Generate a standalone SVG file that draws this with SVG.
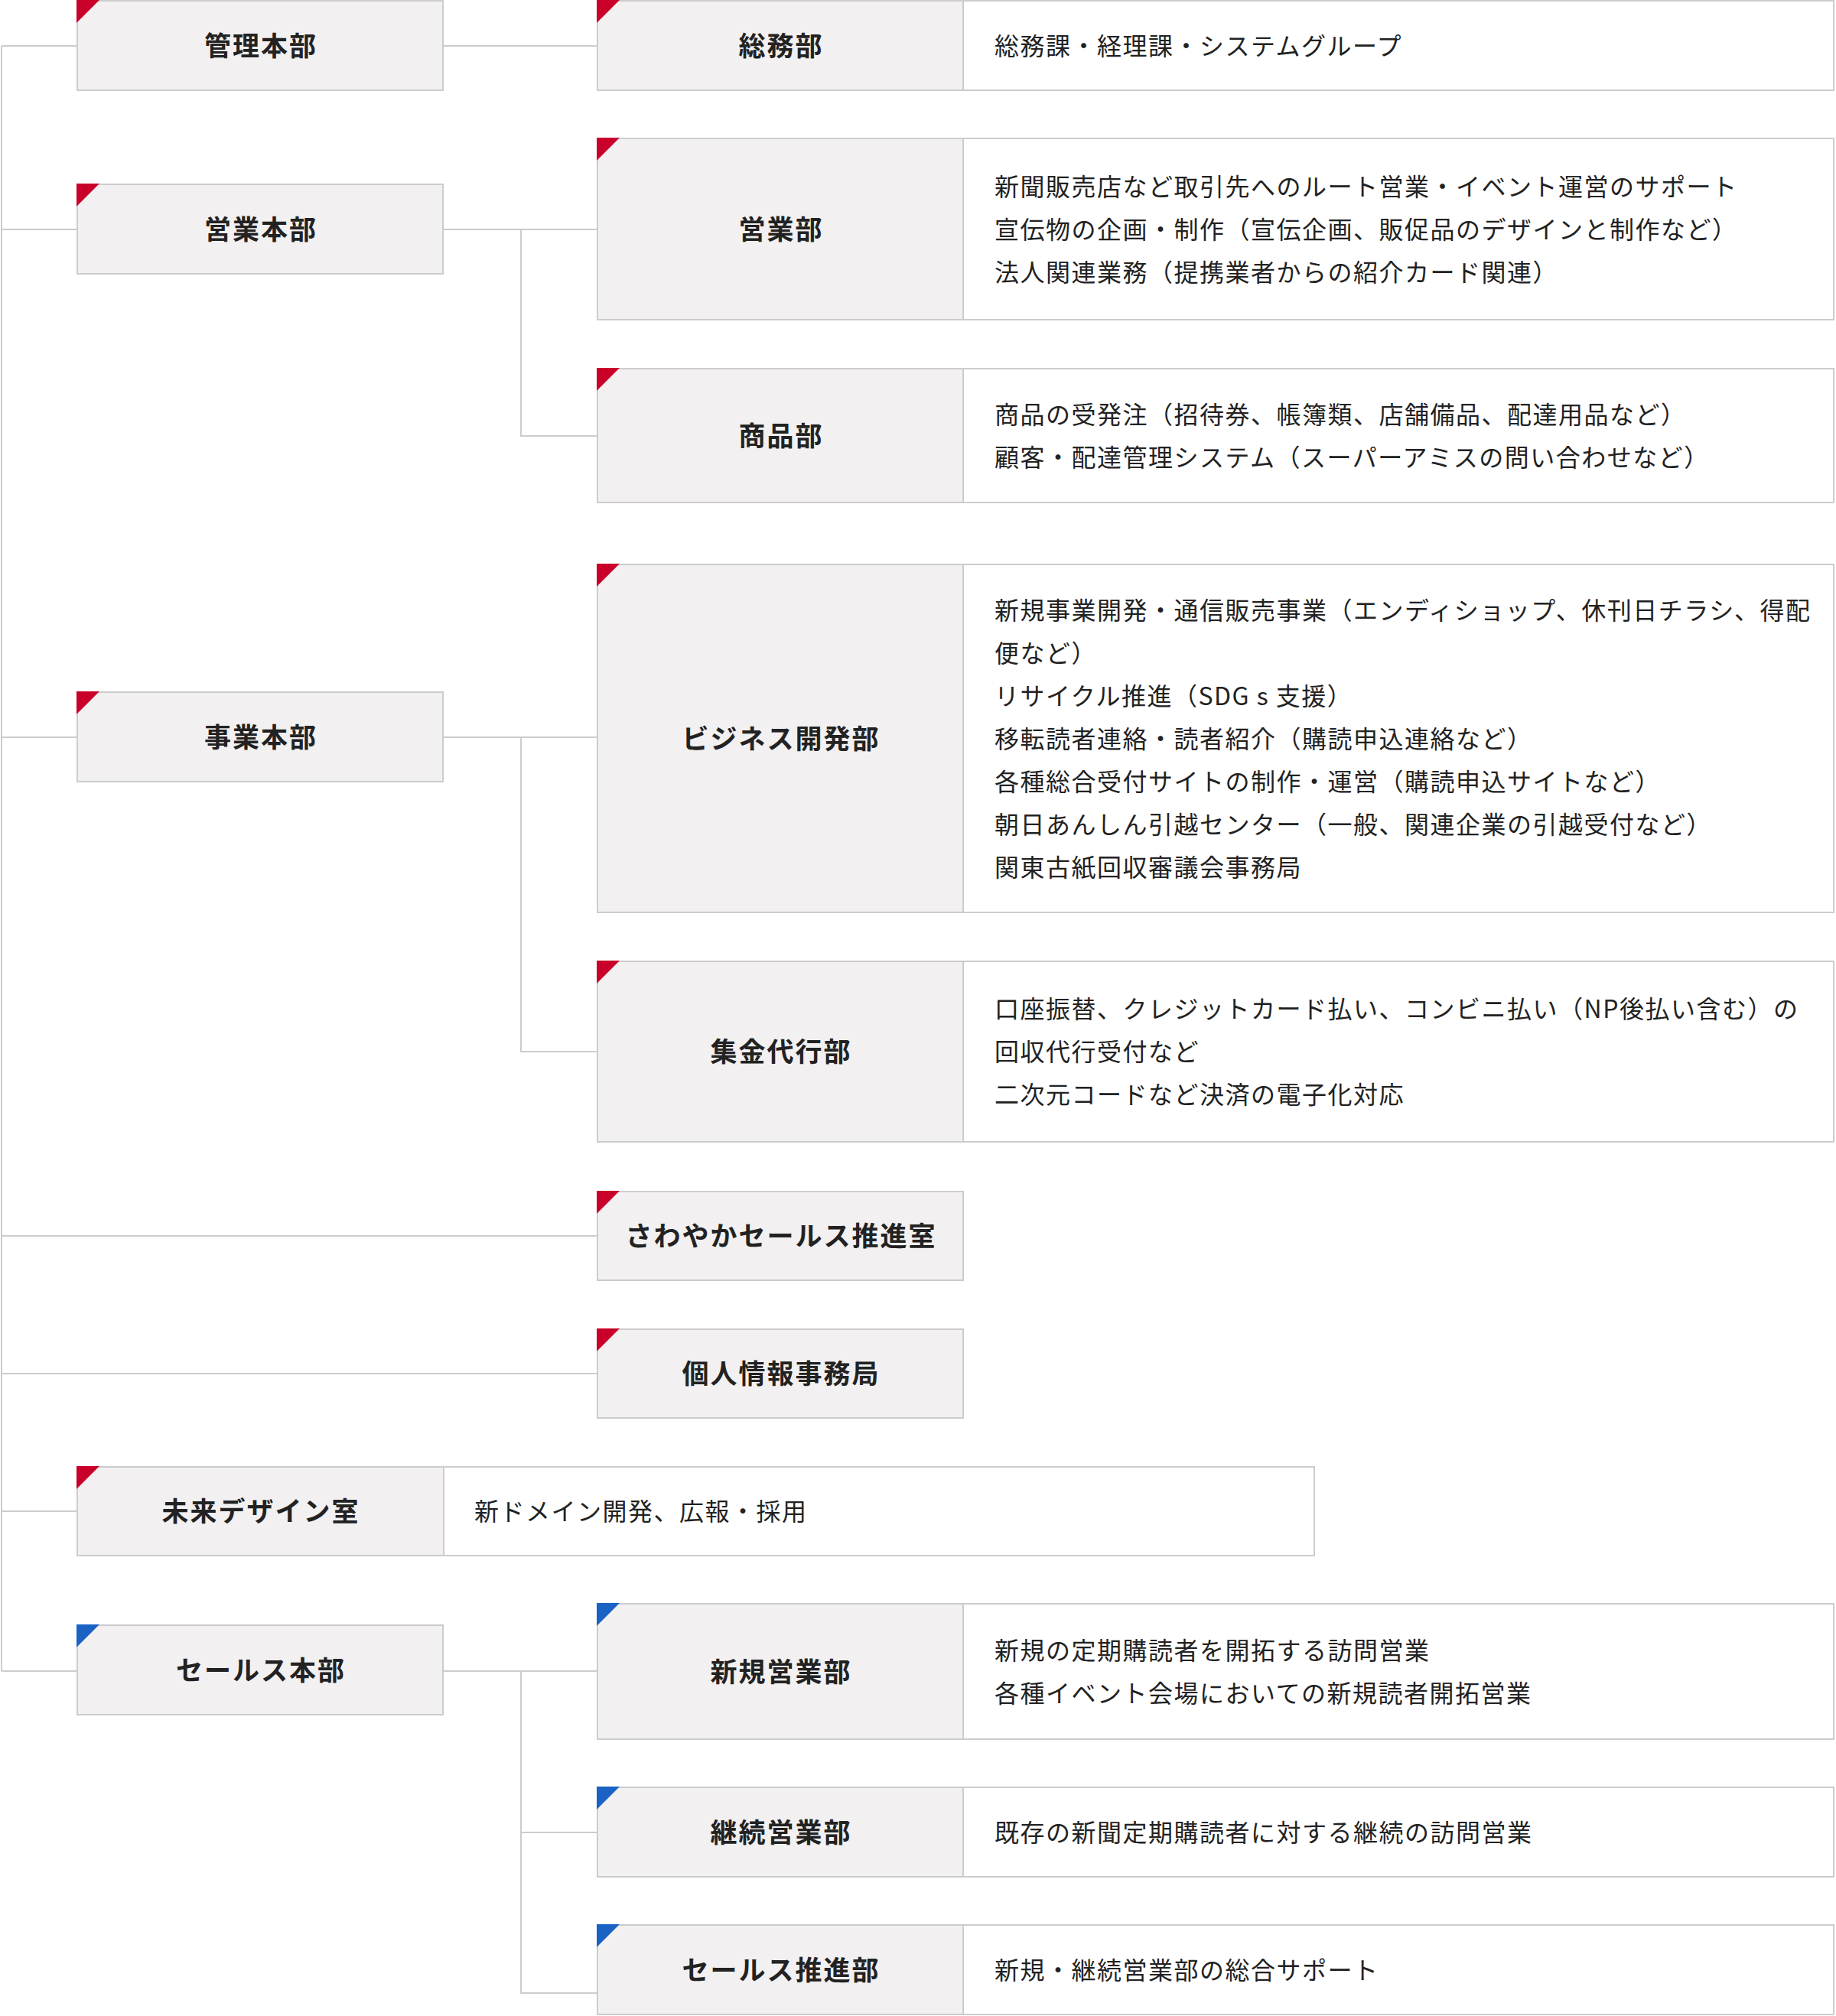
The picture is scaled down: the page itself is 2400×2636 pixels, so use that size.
<svg xmlns="http://www.w3.org/2000/svg" width="2400" height="2636" viewBox="0 0 2400 2636">
<style>
.bx{fill:#ffffff;stroke:#cccccc;stroke-width:2}
.lb{fill:#f2f0f1;stroke:#cccccc;stroke-width:2}
.cn{fill:none;stroke:#cccccc;stroke-width:2}
.r{fill:#c8002a}
.b{fill:#1a62c4}
.lbl{font-family:"Noto Sans CJK JP","Noto Sans",sans-serif;font-weight:700;font-size:35px;letter-spacing:2px;fill:#222222;text-anchor:middle;dominant-baseline:central}
.dsc{font-family:"Noto Sans CJK JP","Noto Sans",sans-serif;font-weight:400;font-size:32px;letter-spacing:1.5px;fill:#222222;dominant-baseline:central}
</style>
<rect width="2400" height="2636" fill="#ffffff"/>
<g id="connectors">
<path class="cn" d="M2,60 V2185"/>
<path class="cn" d="M2,60 H100 M2,300 H100 M2,964 H100 M2,1976 H100 M2,2185 H100"/>
<path class="cn" d="M2,1616 H780 M2,1796 H780"/>
<path class="cn" d="M580,60 H780"/>
<path class="cn" d="M580,300 H780 M681,300 V570 H780"/>
<path class="cn" d="M580,964 H780 M681,964 V1375 H780"/>
<path class="cn" d="M580,2185 H780 M681,2185 V2606 H780 M681,2396 H780"/>
</g>
<g id="kanri-honbu">
<rect class="lb" x="101" y="1" width="478" height="117"/>
<polygon class="r" points="100,0 130,0 100,30"/>
<text class="lbl" x="341" y="57">管理本部</text>
</g>
<g id="eigyo-honbu">
<rect class="lb" x="101" y="241" width="478" height="117"/>
<polygon class="r" points="100,240 130,240 100,270"/>
<text class="lbl" x="341" y="297">営業本部</text>
</g>
<g id="jigyo-honbu">
<rect class="lb" x="101" y="905" width="478" height="117"/>
<polygon class="r" points="100,904 130,904 100,934"/>
<text class="lbl" x="341" y="961">事業本部</text>
</g>
<g id="mirai-design">
<rect class="bx" x="101" y="1918" width="1617" height="116"/>
<rect class="lb" x="101" y="1918" width="479" height="116"/>
<polygon class="r" points="100,1917 130,1917 100,1947"/>
<text class="lbl" x="341" y="1973">未来デザイン室</text>
<text class="dsc" x="620" y="1974">新ドメイン開発、広報・採用</text>
</g>
<g id="sales-honbu">
<rect class="lb" x="101" y="2125" width="478" height="117"/>
<polygon class="b" points="100,2124 130,2124 100,2154"/>
<text class="lbl" x="341" y="2181">セールス本部</text>
</g>
<g id="somu">
<rect class="bx" x="781" y="1" width="1616" height="117"/>
<rect class="lb" x="781" y="1" width="478" height="117"/>
<polygon class="r" points="780,0 810,0 780,30"/>
<text class="lbl" x="1021" y="57">総務部</text>
<text class="dsc" x="1300" y="58">総務課・経理課・システムグループ</text>
</g>
<g id="eigyo">
<rect class="bx" x="781" y="181" width="1616" height="237"/>
<rect class="lb" x="781" y="181" width="478" height="237"/>
<polygon class="r" points="780,180 810,180 780,210"/>
<text class="lbl" x="1021" y="297">営業部</text>
<text class="dsc" x="1300" y="242">新聞販売店など取引先へのルート営業・イベント運営のサポート</text>
<text class="dsc" x="1300" y="298">宣伝物の企画・制作（宣伝企画、販促品のデザインと制作など）</text>
<text class="dsc" x="1300" y="354">法人関連業務（提携業者からの紹介カード関連）</text>
</g>
<g id="shohin">
<rect class="bx" x="781" y="482" width="1616" height="175"/>
<rect class="lb" x="781" y="482" width="478" height="175"/>
<polygon class="r" points="780,481 810,481 780,511"/>
<text class="lbl" x="1021" y="567">商品部</text>
<text class="dsc" x="1300" y="540">商品の受発注（招待券、帳簿類、店舗備品、配達用品など）</text>
<text class="dsc" x="1300" y="596">顧客・配達管理システム（スーパーアミスの問い合わせなど）</text>
</g>
<g id="business-kaihatsu">
<rect class="bx" x="781" y="738" width="1616" height="455"/>
<rect class="lb" x="781" y="738" width="478" height="455"/>
<polygon class="r" points="780,737 810,737 780,767"/>
<text class="lbl" x="1021" y="963">ビジネス開発部</text>
<text class="dsc" x="1300" y="796">新規事業開発・通信販売事業（エンディショップ、休刊日チラシ、得配</text>
<text class="dsc" x="1300" y="852">便など）</text>
<text class="dsc" x="1300" y="908">リサイクル推進（SDG s 支援）</text>
<text class="dsc" x="1300" y="964">移転読者連絡・読者紹介（購読申込連絡など）</text>
<text class="dsc" x="1300" y="1020">各種総合受付サイトの制作・運営（購読申込サイトなど）</text>
<text class="dsc" x="1300" y="1076">朝日あんしん引越センター（一般、関連企業の引越受付など）</text>
<text class="dsc" x="1300" y="1132">関東古紙回収審議会事務局</text>
</g>
<g id="shukin-daiko">
<rect class="bx" x="781" y="1257" width="1616" height="236"/>
<rect class="lb" x="781" y="1257" width="478" height="236"/>
<polygon class="r" points="780,1256 810,1256 780,1286"/>
<text class="lbl" x="1021" y="1372">集金代行部</text>
<text class="dsc" x="1300" y="1317">口座振替、クレジットカード払い、コンビニ払い（NP後払い含む）の</text>
<text class="dsc" x="1300" y="1373">回収代行受付など</text>
<text class="dsc" x="1300" y="1429">二次元コードなど決済の電子化対応</text>
</g>
<g id="sawayaka">
<rect class="lb" x="781" y="1558" width="478" height="116"/>
<polygon class="r" points="780,1557 810,1557 780,1587"/>
<text class="lbl" x="1021" y="1613">さわやかセールス推進室</text>
</g>
<g id="kojin-joho">
<rect class="lb" x="781" y="1738" width="478" height="116"/>
<polygon class="r" points="780,1737 810,1737 780,1767"/>
<text class="lbl" x="1021" y="1793">個人情報事務局</text>
</g>
<g id="shinki-eigyo">
<rect class="bx" x="781" y="2097" width="1616" height="177"/>
<rect class="lb" x="781" y="2097" width="478" height="177"/>
<polygon class="b" points="780,2096 810,2096 780,2126"/>
<text class="lbl" x="1021" y="2183">新規営業部</text>
<text class="dsc" x="1300" y="2156">新規の定期購読者を開拓する訪問営業</text>
<text class="dsc" x="1300" y="2212">各種イベント会場においての新規読者開拓営業</text>
</g>
<g id="keizoku-eigyo">
<rect class="bx" x="781" y="2337" width="1616" height="117"/>
<rect class="lb" x="781" y="2337" width="478" height="117"/>
<polygon class="b" points="780,2336 810,2336 780,2366"/>
<text class="lbl" x="1021" y="2393">継続営業部</text>
<text class="dsc" x="1300" y="2394">既存の新聞定期購読者に対する継続の訪問営業</text>
</g>
<g id="sales-suishin">
<rect class="bx" x="781" y="2517" width="1616" height="117"/>
<rect class="lb" x="781" y="2517" width="478" height="117"/>
<polygon class="b" points="780,2516 810,2516 780,2546"/>
<text class="lbl" x="1021" y="2573">セールス推進部</text>
<text class="dsc" x="1300" y="2574">新規・継続営業部の総合サポート</text>
</g>
</svg>
